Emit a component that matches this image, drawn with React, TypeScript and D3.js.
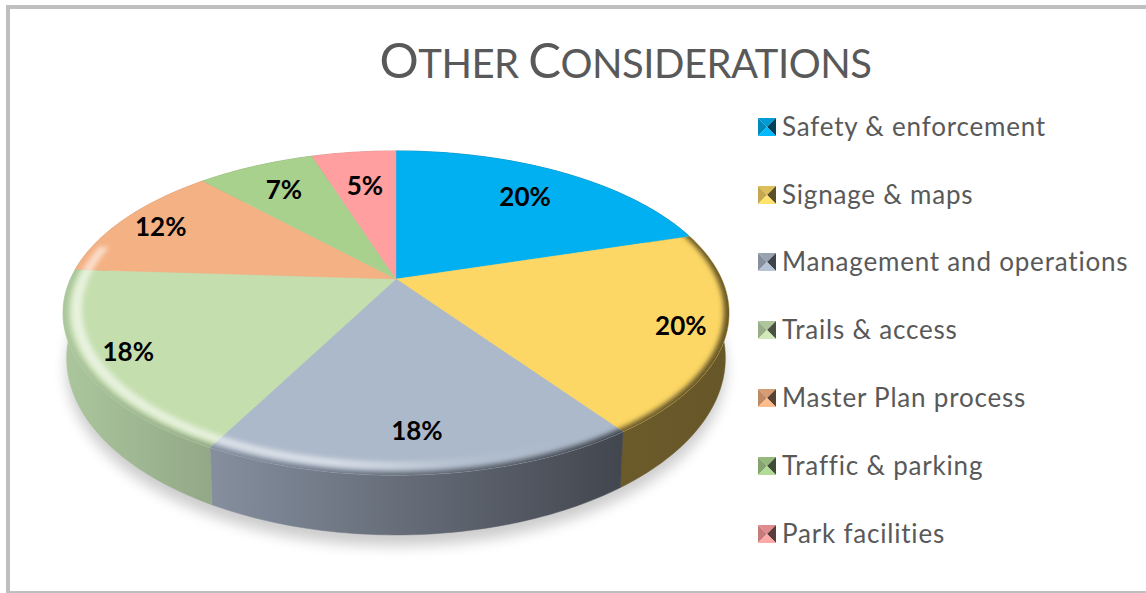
import React from "react";
import * as d3 from "d3";

const categories = ["Safety & enforcement", "Signage & maps", "Management and operations", "Trails & access", "Master Plan process", "Traffic & parking", "Park facilities"];
const values = [20.3, 19.9, 17.5, 18.3, 12, 7, 5];
const faceColors = ["#00b0f0", "#fcd765", "#acb9ca", "#c5deae", "#f4b183", "#a9d18e", "#ff9f9f"];
const wallStart = ["#005f80", "#6b5a2a", "#858f9e", "#abc69d", "#c08a63", "#7f9d6a", "#c07878"];
const wallEnd = ["#005f80", "#675627", "#42464e", "#93a887", "#c08a63", "#7f9d6a", "#c07878"];
const labelReach = [0.75, 0.87, 0.81, 0.86, 0.86, 0.77, 0.7];
const legendRows = [127, 195, 262, 330, 398, 466, 534];
const softEdged = [1, 2, 3];

const W = 1146, H = 593;
const persp = 0.21;
const top3d = { cx: 396, cy: 279, a: 325.6, b: 155 };
const base3d = { cx: 396, cy: 321, a: 322, b: 169 };

function project(g: typeof top3d, theta: number, r = 1): [number, number] {
  const u = Math.sin(theta) * r;
  const v = -Math.cos(theta) * r;
  const d = 1 - persp * v;
  return [g.cx + (g.a * u) / d, g.cy + (g.b * v) / d];
}
function sweep(a0: number, a1: number) {
  const n = Math.max(2, Math.ceil(Math.abs(a1 - a0) / 0.02));
  return d3.range(n + 1).map((i) => a0 + ((a1 - a0) * i) / n);
}
const line = d3.line();
const arcs = d3.pie<number>().sort(null)(values);
const pct = d3.format(".0f");
const rad = (deg: number) => (deg * Math.PI) / 180;

function facePath(a0: number, a1: number) {
  return line([[top3d.cx, top3d.cy], ...sweep(a0, a1).map((t) => project(top3d, t))])! + "Z";
}
function wallPath(a0: number, a1: number) {
  const s = sweep(a0, a1);
  return line([...s.map((t) => project(top3d, t)), ...s.slice().reverse().map((t) => project(base3d, t))])! + "Z";
}
function bandPath(a0: number, a1: number, r0: number, r1: number) {
  const s = sweep(a0, a1);
  return line([...s.map((t) => project(top3d, t, r1)), ...s.slice().reverse().map((t) => project(top3d, t, r0))])! + "Z";
}
const outline = (g: typeof top3d, r = 1) => line(sweep(0, Math.PI * 2).map((t) => project(g, t, r)))! + "Z";

export default function App() {
  const font = "Lato, sans-serif";
  return (
    <svg width={W} height={H} viewBox={`0 0 ${W} ${H}`} style={{ position: "absolute", left: 0, top: 0, background: "#fff" }}>
      <defs>
        <filter id="soft" x="-20%" y="-20%" width="140%" height="140%"><feGaussianBlur stdDeviation="7" /></filter>
        <filter id="blurHi" x="-10%" y="-10%" width="120%" height="120%"><feGaussianBlur stdDeviation="2.6" /></filter>
        <filter id="blurEdge" x="-10%" y="-10%" width="120%" height="120%"><feGaussianBlur stdDeviation="2.4" /></filter>
        {arcs.map((a, i) => {
          const xs = sweep(a.startAngle, a.endAngle).map((t) => project(top3d, t)[0]);
          return (
            <React.Fragment key={i}>
              <linearGradient id={`wall${i}`} gradientUnits="userSpaceOnUse" x1={d3.min(xs)} x2={d3.max(xs)} y1="0" y2="0">
                <stop offset="0" stopColor={wallStart[i]} />
                <stop offset="1" stopColor={wallEnd[i]} />
              </linearGradient>
              <clipPath id={`clip${i}`}><path d={facePath(a.startAngle, a.endAngle)} /></clipPath>
            </React.Fragment>
          );
        })}
        <linearGradient id="hi" gradientUnits="userSpaceOnUse" x1="62" x2="560" y1="0" y2="0">
          <stop offset="0" stopColor="#fff" stopOpacity="0.6" />
          <stop offset="0.55" stopColor="#fff" stopOpacity="0.55" />
          <stop offset="0.8" stopColor="#fff" stopOpacity="0.12" />
          <stop offset="1" stopColor="#fff" stopOpacity="0" />
        </linearGradient>
      </defs>

      <rect x={0} y={0} width={W} height={H} fill="#fff" />
      <rect x={8} y={7} width={W + 20} height={586} fill="none" stroke="#bfbfbf" strokeWidth={4} />

      <text x={625.5} y={78} textAnchor="middle" fontFamily={font} fill="#595959" fontSize={40} style={{ letterSpacing: "-0.5px" }}>
        <tspan fontSize={49}>O</tspan>THER <tspan fontSize={49}>C</tspan>ONSIDERATIONS
      </text>

      <path d={outline(base3d)} transform="translate(0,11)" fill="#000" opacity={0.2} filter="url(#soft)" />

      {arcs.map((a, i) => <path key={i} d={wallPath(a.startAngle, a.endAngle)} fill={`url(#wall${i})`} stroke={`url(#wall${i})`} strokeWidth={0.5} />)}
      {arcs.map((a, i) => <path key={i} d={facePath(a.startAngle, a.endAngle)} fill={faceColors[i]} stroke={faceColors[i]} strokeWidth={0.4} />)}

      {softEdged.map((i) => (
        <g key={i} clipPath={`url(#clip${i})`}>
          <path d={bandPath(arcs[i].startAngle - 0.2, arcs[i].endAngle + 0.2, 0.985, 1.04)} fill={`url(#wall${i})`} filter="url(#blurEdge)" />
        </g>
      ))}
      {[2, 3, 4].map((i) => (
        <g key={i} clipPath={`url(#clip${i})`}>
          <path
            d={bandPath(arcs[i].startAngle - 0.2, i === 4 ? rad(283) : arcs[i].endAngle + 0.2, 0.945, 0.976)}
            fill="url(#hi)"
            filter="url(#blurHi)"
          />
        </g>
      ))}

      {arcs.map((a, i) => {
        const [x, y] = project(top3d, (a.startAngle + a.endAngle) / 2, labelReach[i]);
        return (
          <text key={i} x={x} y={y} dy="0.38em" textAnchor="middle" fontFamily={font} fontWeight={700} fontSize={26} fill="#000">
            {pct(values[i])}%
          </text>
        );
      })}

      {categories.map((c, i) => {
        const y = legendRows[i], x = 758, s = 18;
        const col = d3.color(faceColors[i])!;
        const cx = x + s / 2, cy = y;
        const y0 = y - s / 2, y1 = y + s / 2, x1 = x + s;
        const tri = (p: [number, number][]) => line(p)! + "Z";
        return (
          <g key={c}>
            <path d={tri([[x, y0], [x1, y0], [cx, cy]])} fill={col.darker(0.35).formatHex()} />
            <path d={tri([[x, y0], [x, y1], [cx, cy]])} fill={col.darker(0.7).formatHex()} />
            <path d={tri([[x1, y0], [x1, y1], [cx, cy]])} fill={col.darker(2.8).formatHex()} />
            <path d={tri([[x, y1], [x1, y1], [cx, cy]])} fill={col.brighter(0.15).formatHex()} />
            <text x={782} y={y - 0.5} dy="0.35em" fontFamily={font} fontSize={26} fill="#595959" style={{ letterSpacing: "0.8px" }}>{c}</text>
          </g>
        );
      })}
    </svg>
  );
}
